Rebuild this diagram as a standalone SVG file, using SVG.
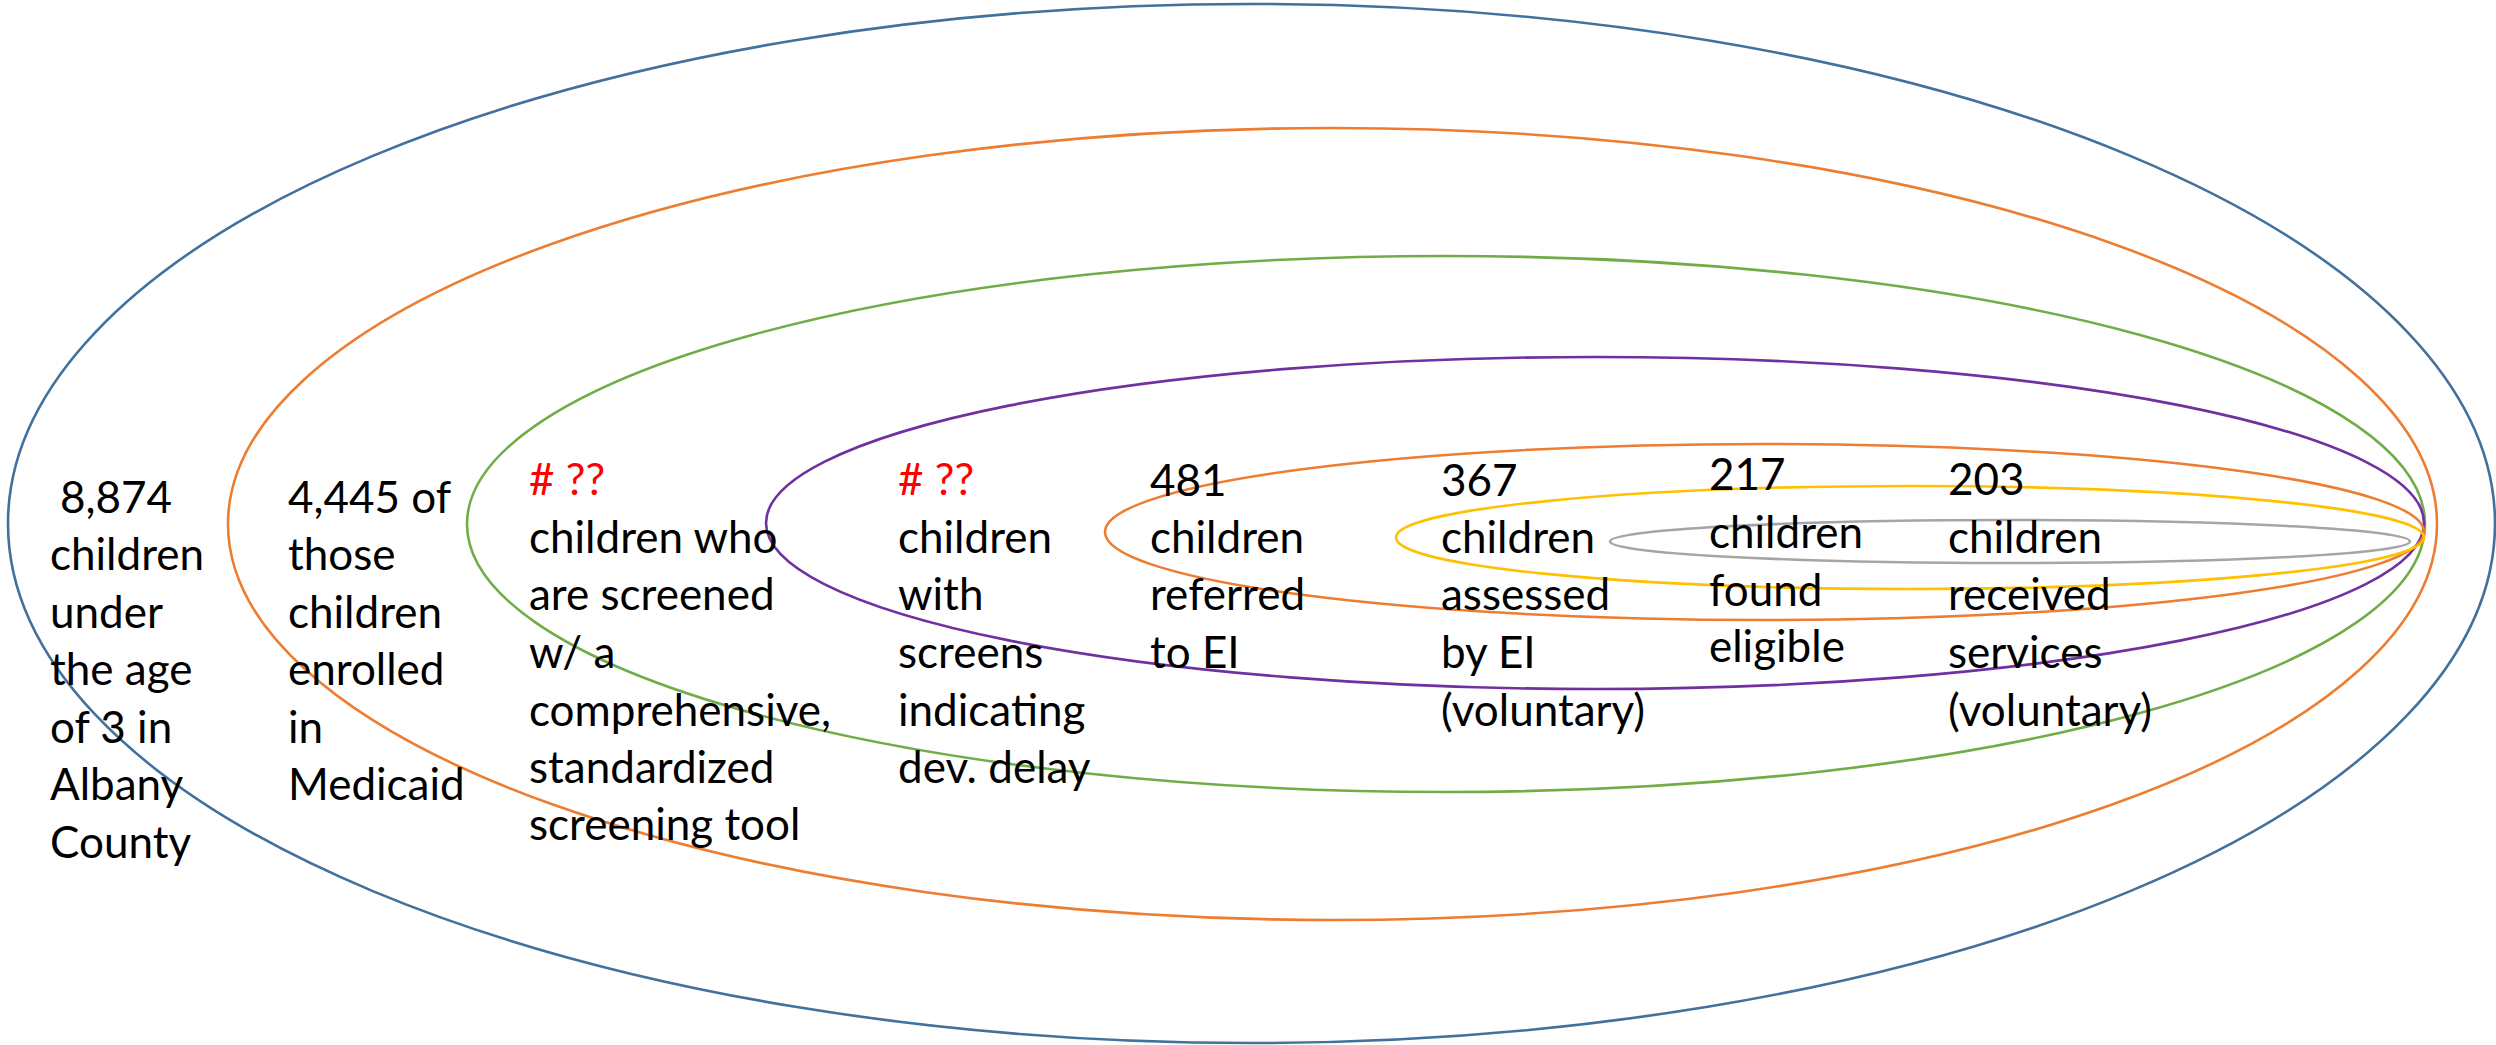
<svg xmlns="http://www.w3.org/2000/svg" width="2496" height="1045" viewBox="0 0 2496 1045">
<style>
.e{fill:none;stroke-width:2.6}
.t{font-family:Lato,"Open Sans",sans-serif;font-size:44px;fill:#000}
.r{fill:#FF0000}
</style>
<rect x="0" y="0" width="2496" height="1045" fill="#ffffff"/>
<g id="sets">
<ellipse id="s1" class="e" cx="1251.5" cy="523.5" rx="1243.5" ry="519.5" stroke="#41719C" stroke-width="2.2"/>
<ellipse id="s2" class="e" cx="1332.5" cy="524" rx="1104.5" ry="396" stroke="#ED7D31"/>
<ellipse id="s3" class="e" cx="1446" cy="524" rx="979" ry="268" stroke="#70AD47"/>
<ellipse id="s4" class="e" cx="1595" cy="523" rx="829" ry="166" stroke="#7030A0"/>
<ellipse id="s5" class="e" cx="1764.5" cy="532" rx="659.5" ry="88" stroke="#ED7D31"/>
<ellipse id="s6" class="e" cx="1910" cy="537.5" rx="514" ry="51.5" stroke="#FFC000"/>
<ellipse id="s7" class="e" cx="2010" cy="541.5" rx="400" ry="21.5" stroke="#A5A5A5"/>
</g>
<g id="connectors"></g>
<g id="label1" class="t">
<text x="60" y="513">8,874</text>
<text x="50" y="570">children</text>
<text x="50" y="628">under</text>
<text x="50" y="685">the age</text>
<text x="50" y="743">of 3 in</text>
<text x="50" y="800">Albany</text>
<text x="50" y="858">County</text>
</g>
<g id="label2" class="t">
<text x="288" y="513">4,445 of</text>
<text x="288" y="570">those</text>
<text x="288" y="628">children</text>
<text x="288" y="685">enrolled</text>
<text x="288" y="743">in</text>
<text x="288" y="800">Medicaid</text>
</g>
<g id="label3" class="t">
<text x="529" y="495" class="r">#&#160;??</text>
<text x="529" y="553">children who</text>
<text x="529" y="610">are screened</text>
<text x="529" y="668">w/ a</text>
<text x="529" y="726">comprehensive,</text>
<text x="529" y="783">standardized</text>
<text x="529" y="840">screening tool</text>
</g>
<g id="label4" class="t">
<text x="898" y="495" class="r">#&#160;??</text>
<text x="898" y="553">children</text>
<text x="898" y="610">with</text>
<text x="898" y="668">screens</text>
<text x="898" y="726">indicating</text>
<text x="898" y="783">dev. delay</text>
</g>
<g id="label5" class="t">
<text x="1150" y="496">481</text>
<text x="1150" y="553">children</text>
<text x="1150" y="610">referred</text>
<text x="1150" y="668">to EI</text>
</g>
<g id="label6" class="t">
<text x="1441" y="496">367</text>
<text x="1441" y="553">children</text>
<text x="1441" y="610">assessed</text>
<text x="1441" y="668">by EI</text>
<text x="1441" y="726">(voluntary)</text>
</g>
<g id="label7" class="t">
<text x="1709" y="490">217</text>
<text x="1709" y="548">children</text>
<text x="1709" y="606">found</text>
<text x="1709" y="662">eligible</text>
</g>
<g id="label8" class="t">
<text x="1948" y="495">203</text>
<text x="1948" y="553">children</text>
<text x="1948" y="610">received</text>
<text x="1948" y="668">services</text>
<text x="1948" y="726">(voluntary)</text>
</g>
</svg>
